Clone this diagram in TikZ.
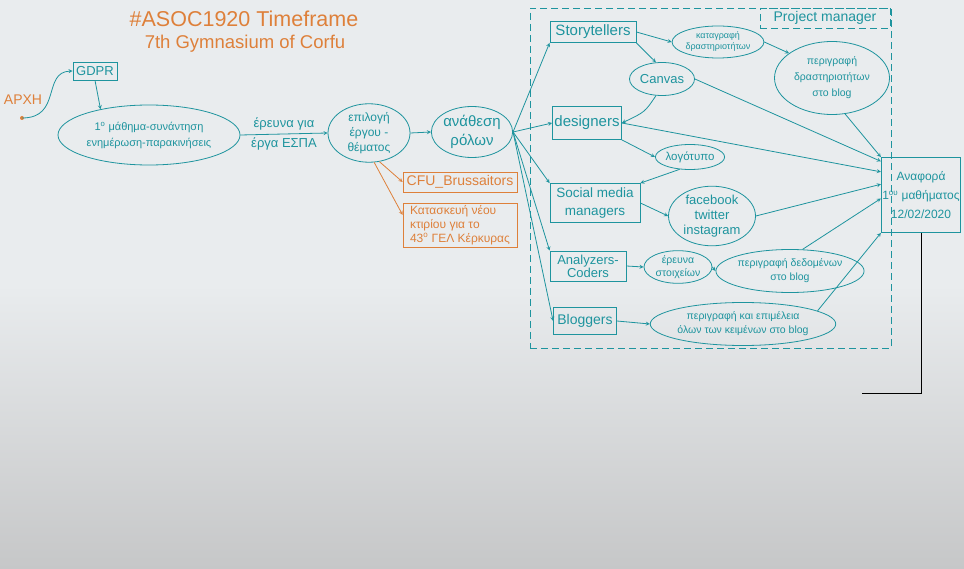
\documentclass[tikz,border=0pt]{standalone}
\usepackage{fontspec}
\setmainfont{Liberation Sans}
\usetikzlibrary{shapes.geometric}
\definecolor{boardteal}{RGB}{30,148,158}
\definecolor{markerorange}{RGB}{222,128,58}
\definecolor{boardtop}{RGB}{233,236,238}
\definecolor{boardbottom}{RGB}{198,199,200}

\begin{document}
\begin{tikzpicture}[
    x=1pt, y=-1pt,
    role/.style={rectangle, draw=boardteal, thick, text=boardteal, align=center, inner sep=1pt},
    task/.style={ellipse, draw=boardteal, thick, text=boardteal, align=center, inner sep=0pt},
    orangebox/.style={rectangle, draw=markerorange, thick, text=markerorange, inner sep=2pt},
    pmline/.style={draw=boardteal, dash pattern=on 7pt off 4pt},
    link/.style={->, thick, >=stealth, color=boardteal},
    orangelink/.style={->, thick, >=stealth, color=markerorange}
]

% board
\useasboundingbox (0,0) rectangle (964,569);
\shade[top color=boardtop, bottom color=boardbottom, middle color=boardtop] (0,0) rectangle (964,569);

% title
\node[text=markerorange, font=\fontsize{21.5}{24}\selectfont] (title) at (244,19) {\#ASOC1920 Timeframe};
\node[text=markerorange, font=\fontsize{18.5}{20}\selectfont] (school) at (245,44) {7th Gymnasium of Corfu};

% start
\node[text=markerorange, font=\fontsize{14}{16}\selectfont] (arxi) at (23,100) {ΑΡΧΗ};
\coordinate (start) at (22,118);
\fill[markerorange] (start) circle (2);

% first lesson
\node[role, font=\fontsize{13}{14}\selectfont, minimum width=44, minimum height=18] (gdpr) at (95,71) {GDPR};
\node[task, font=\fontsize{11}{16}\selectfont, minimum width=182, minimum height=60] (lesson) at (149,135) {1\textsuperscript{ο} μάθημα-συνάντηση\\ενημέρωση-παρακινήσεις};
\node[task, font=\fontsize{12}{15}\selectfont, minimum width=82, minimum height=52] (choice) at (369,133) {επιλογή\\έργου -\\θέματος};
\node[task, font=\fontsize{15}{19}\selectfont, minimum width=81, minimum height=51] (roles) at (472,132) {ανάθεση\\ρόλων};

% chosen projects
\node[orangebox, font=\fontsize{14}{15}\selectfont, minimum width=114, minimum height=20] (cfu) at (460,182) {CFU\_Brussaitors};
\node[orangebox, font=\fontsize{12}{14}\selectfont, minimum width=114, minimum height=44, align=left] (building) at (460,225) {Κατασκευή νέου\\κτιρίου για το\\43\textsuperscript{ο} ΓΕΛ Κέρκυρας};

% project manager area
\node[pmline, minimum width=361, minimum height=340] (pmarea) at (710.5,178) {};
\node[pmline, text=boardteal, font=\fontsize{14}{15}\selectfont, minimum width=130, minimum height=20, inner sep=1pt] (pm) at (825,18) {Project manager};

% roles
\node[role, font=\fontsize{15}{16}\selectfont, minimum width=86, minimum height=21] (story) at (593,32) {Storytellers};
\node[role, font=\fontsize{15}{17}\selectfont, minimum width=69, minimum height=33] (design) at (587,123) {designers};
\node[role, font=\fontsize{13.5}{18}\selectfont, minimum width=90, minimum height=39] (social) at (595,203) {Social media\\managers};
\node[role, font=\fontsize{13}{13}\selectfont, minimum width=76, minimum height=30] (coders) at (588,266) {Analyzers-\\Coders};
\node[role, font=\fontsize{14}{15}\selectfont, minimum width=63, minimum height=27] (bloggers) at (585,321) {Bloggers};

% tasks
\node[task, font=\fontsize{13}{14}\selectfont, minimum width=65, minimum height=33] (canvas) at (662,79) {Canvas};
\node[task, font=\fontsize{9}{11}\selectfont, minimum width=87, minimum height=32] (record) at (718,42) {καταγραφή\\δραστηριοτήτων};
\node[task, font=\fontsize{10.5}{16}\selectfont, minimum width=115, minimum height=73] (actblog) at (832,78) {περιγραφή\\δραστηριοτήτων\\στο blog};
\node[task, font=\fontsize{11.5}{13}\selectfont, minimum width=65, minimum height=25] (logo) at (690,157) {λογότυπο};
\node[task, font=\fontsize{13}{15}\selectfont, minimum width=87, minimum height=57] (networks) at (712,216) {facebook\\twitter\\instagram};
\node[task, font=\fontsize{10.5}{13}\selectfont, minimum width=68, minimum height=31] (research) at (678,267) {έρευνα\\στοιχείων};
\node[task, font=\fontsize{10.5}{14}\selectfont, minimum width=137, minimum height=43] (datablog) at (790,271) {περιγραφή δεδομένων\\στο blog};
\node[task, font=\fontsize{10.5}{14}\selectfont, minimum width=178, minimum height=43] (textblog) at (743,324) {περιγραφή και επιμέλεια\\όλων των κειμένων στο blog};

% report
\node[role, font=\fontsize{12}{19}\selectfont, minimum width=78, minimum height=75] (report) at (921,195) {Αναφορά\\1\textsuperscript{ου} μαθήματος\\12/02/2020};
\coordinate (lineend) at (862,393);

% connections
\draw[link] (start) .. controls (62,118) and (42,72) .. (gdpr.west);
\draw[link] (gdpr.south) -- (lesson.152);
\draw[link] (lesson.east) -- node[above, text=boardteal, font=\fontsize{13}{14}\selectfont] {έρευνα για} node[below, text=boardteal, font=\fontsize{13}{14}\selectfont] {έργα ΕΣΠΑ} (choice.west);
\draw[link] (choice.east) -- (roles.west);
\draw[orangelink] (choice.290) -- (cfu.west);
\draw[orangelink] (choice.280) -- (building.170);

\draw[link] (roles.east) -- (story.south west);
\draw[link] (roles.east) -- (design.west);
\draw[link] (roles.east) -- (social.north west);
\draw[link] (roles.east) -- (coders.north west);
\draw[link] (roles.east) -- (bloggers.west);

\draw[link] (story.east) -- (record.west);
\draw[link] (story.south east) -- (canvas.110);
\draw[link] (record.east) -- (actblog.150);
\draw[link] (canvas.250) .. controls (645,112) .. (design.east);
\draw[link] (design.south east) -- (logo.west);
\draw[link] (logo.230) -- (social.north east);
\draw[link] (social.east) -- (networks.west);
\draw[link] (coders.east) -- (research.west);
\draw[link] (research.east) -- (datablog.west);
\draw[link] (bloggers.east) -- (textblog.west);

\draw[link] (canvas.east) -- (report.140);
\draw[link] (actblog.290) -- (report.north west);
\draw[link] (design.east) -- (report.150);
\draw[link] (networks.east) -- (report.165);
\draw[link] (datablog.60) -- (report.185);
\draw[link] (textblog.10) -- (report.south west);

\draw[black, thick] (report.south) |- (lineend);

\end{tikzpicture}
\end{document}
